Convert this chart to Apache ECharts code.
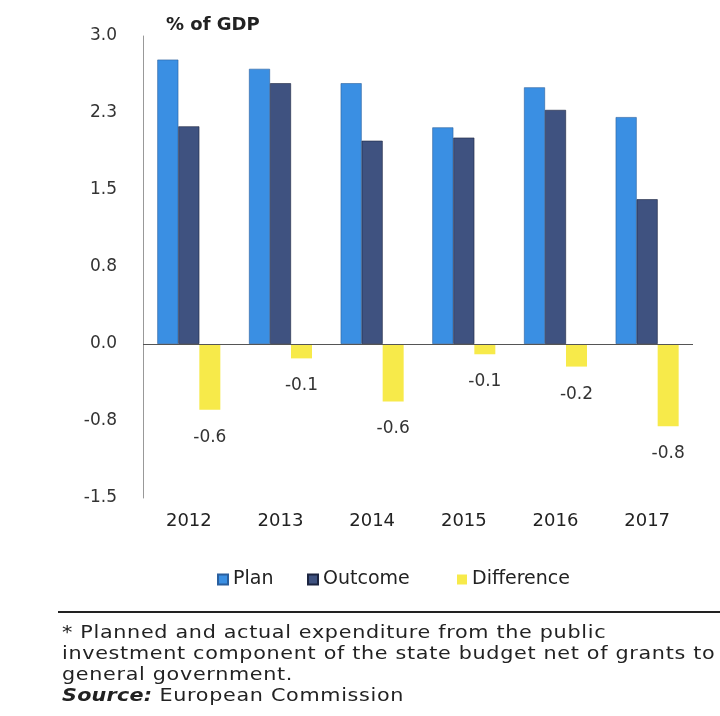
<!DOCTYPE html>
<html>
<head>
<meta charset="utf-8">
<script src="https://cdn.jsdelivr.net/npm/echarts@6/dist/echarts.min.js"></script>
<style>
  html, body { margin: 0; padding: 0; background: #fff; }
  #wrap { position: relative; width: 720px; height: 716px; overflow: hidden; }
  #chart { width: 720px; height: 716px; }
  #note {
    position: absolute; left: 62px; top: 621px;
    font-family: "DejaVu Sans", sans-serif; font-size: 18px; line-height: 21px;
    letter-spacing: 0.6px; color: #222; white-space: nowrap;
    transform: scaleX(1.15); transform-origin: 0 0;
  }
  #note b { font-style: italic; letter-spacing: 0.2px; }
</style>
</head>
<body>
<div id="wrap">
  <div id="chart"></div>
  <div id="note"></div>
</div>
<script>
// Public investment: planned vs actual spending, % of GDP
const years = ['2012', '2013', '2014', '2015', '2016', '2017'];
const plan = [2.77, 2.68, 2.54, 2.11, 2.50, 2.21];
const outcome = [2.12, 2.54, 1.98, 2.01, 2.28, 1.41];
const difference = [-0.64, -0.14, -0.56, -0.10, -0.22, -0.80];
const seriesNames = ['Plan', 'Outcome', 'Difference'];
const unitLabel = '% of GDP';
const footnoteLines = [
  '* Planned and actual expenditure from the public',
  'investment component of the state budget net of grants to',
  'general government.'
];
const sourceLabel = 'Source:';
const sourceText = 'European Commission';

const FONT = '"DejaVu Sans", sans-serif';

// footnote block under the chart
const note = document.getElementById('note');
footnoteLines.forEach(t => {
  const d = document.createElement('div');
  d.textContent = t;
  note.appendChild(d);
});
const src = document.createElement('div');
const b = document.createElement('b');
b.textContent = sourceLabel;
src.appendChild(b);
src.appendChild(document.createTextNode(' ' + sourceText));
note.appendChild(src);

const chart = echarts.init(document.getElementById('chart'), null, { renderer: 'canvas' });

// one legend block per series so each entry sits at its own x
const legendLefts = [212, 302, 452];
const legends = seriesNames.map((n, i) => ({
  data: [n],
  left: legendLefts[i],
  top: 565,
  itemWidth: 10,
  itemHeight: 10,
  icon: 'rect',
  selectedMode: false,
  textStyle: { fontSize: 19, color: '#222', fontFamily: FONT }
}));

chart.setOption({
  backgroundColor: '#ffffff',
  animation: false,
  textStyle: { fontFamily: FONT },
  grid: { left: 143, right: 27, top: 36, bottom: 218, containLabel: false },
  legend: legends,
  xAxis: {
    type: 'category',
    data: years,
    axisLine: { show: false },
    axisTick: { show: false },
    axisLabel: { fontSize: 18, color: '#222', margin: 14, fontFamily: FONT }
  },
  yAxis: {
    type: 'value',
    min: -1.5,
    max: 3,
    interval: 0.75,
    axisLine: { show: true, lineStyle: { color: '#999', width: 1 } },
    axisTick: { show: false },
    splitLine: { show: false },
    axisLabel: {
      fontSize: 17, color: '#333', margin: 26, fontFamily: FONT,
      formatter: v => v.toFixed(1)
    }
  },
  series: [
    {
      name: 'Plan', type: 'bar', data: plan, barWidth: 21, barGap: '0%',
      itemStyle: { color: '#3a8fe3', borderColor: '#2a5f9e', borderWidth: 0.6 }
    },
    {
      name: 'Outcome', type: 'bar', data: outcome, barWidth: 21, barGap: '0%',
      itemStyle: { color: '#3f5280', borderColor: '#1c2540', borderWidth: 0.6 }
    },
    {
      name: 'Difference', type: 'bar', data: difference, barWidth: 21, barGap: '0%',
      itemStyle: { color: '#f7ea4a' },
      label: {
        show: true, position: 'bottom', distance: 19,
        fontSize: 17, color: '#333', fontFamily: FONT,
        formatter: p => p.value.toFixed(1)
      },
      markLine: {
        silent: true, symbol: 'none', animation: false,
        label: { show: false },
        lineStyle: { color: '#555', width: 1, type: 'solid' },
        data: [{ yAxis: 0 }]
      }
    }
  ],
  title: {
    text: unitLabel,
    left: 161, top: 11,
    textStyle: { fontSize: 18, fontWeight: 'bold', color: '#222', fontFamily: FONT }
  },
  graphic: [
    {
      type: 'line', silent: true,
      shape: { x1: 58, y1: 612, x2: 720, y2: 612 },
      style: { stroke: '#222', lineWidth: 2 }
    }
  ]
});
</script>
</body>
</html>
